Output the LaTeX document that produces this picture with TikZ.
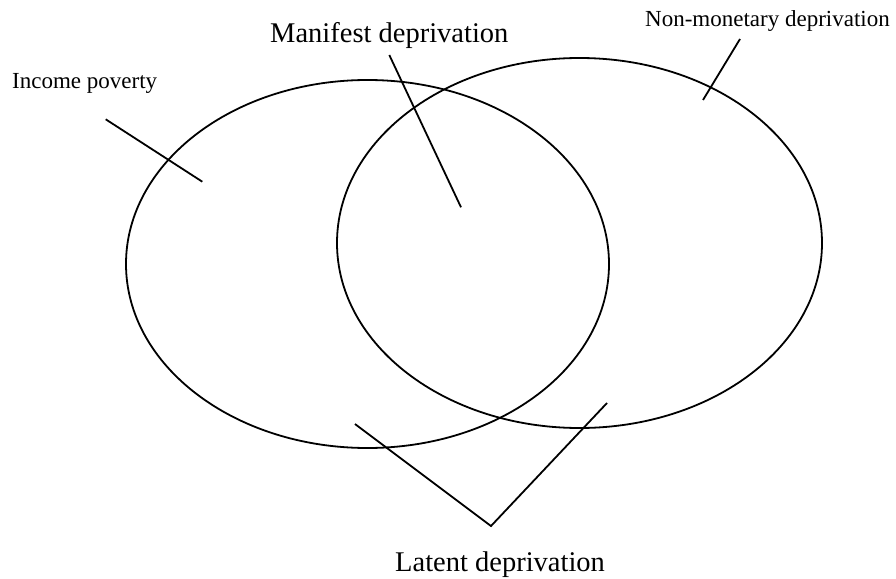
\documentclass[tikz,border=0pt]{standalone}
\usepackage{fontspec}
\setmainfont{Liberation Serif}
\usetikzlibrary{shapes.geometric}
\begin{document}
\begin{tikzpicture}[x=1pt,y=-1pt,
  ring/.style={ellipse,draw,line width=1.8pt,inner sep=0pt},
  leader/.style={line width=1.8pt},
  smalllab/.style={anchor=base west,inner sep=0pt,font=\fontsize{23}{26}\selectfont},
  biglab/.style={anchor=base west,inner sep=0pt,font=\fontsize{28.5}{32}\selectfont}]
\useasboundingbox (0,0) rectangle (896,578);
\node[ring,minimum width=483pt,minimum height=368pt] (L) at (367.5,264) {};
\node[ring,minimum width=485pt,minimum height=370pt] (R) at (579.5,243) {};
\node[smalllab] (inc) at (12,88.3) {Income poverty};
\node[biglab] (man) at (270,42.7) {Manifest deprivation};
\node[smalllab] (non) at (645,26.7) {Non-monetary deprivation};
\node[biglab] (lat) at (395,571.7) {Latent deprivation};
\coordinate (i1) at (105.7,119.3);
\coordinate (i2) at (202.3,181.7);
\coordinate (m1) at (389.3,55);
\coordinate (m2) at (461,207.3);
\coordinate (n1) at (740,39);
\coordinate (n2) at (703,100);
\coordinate (l1) at (355,424);
\coordinate (lv) at (491,526);
\coordinate (l2) at (607,403);
\draw[leader] (i1) -- (i2);
\draw[leader] (m1) -- (m2);
\draw[leader] (n1) -- (n2);
\draw[leader] (l1) -- (lv) -- (l2);
\end{tikzpicture}
\end{document}
